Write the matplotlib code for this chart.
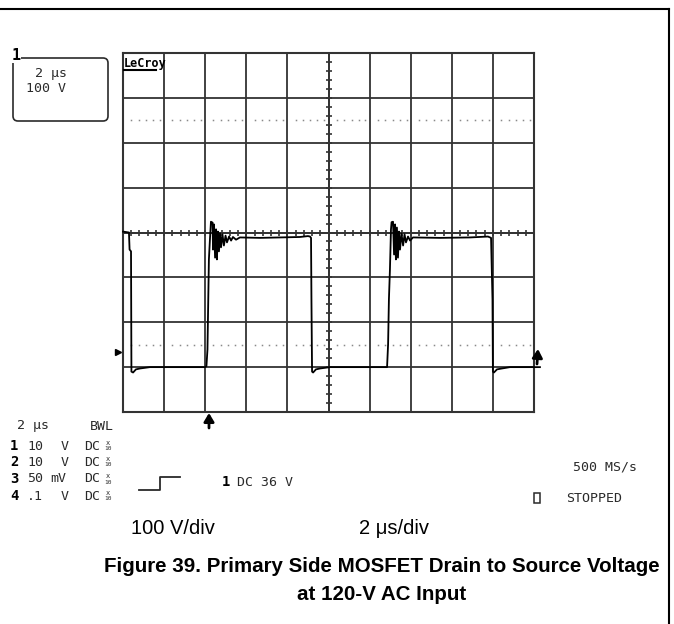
import matplotlib
matplotlib.use("Agg")
import matplotlib.pyplot as plt
from matplotlib.patches import FancyBboxPatch, Rectangle

# screen: 10 div x 2 us, 8 div x 100 V
time_per_div = 2.0
volt_per_div = 100.0

# drain-source trace (us, V on screen scale)
trace_t = [0.0, 0.29, 0.32, 0.39, 0.41, 0.49, 0.63, 0.83, 1.31, 3.99,
           4.06, 4.11, 4.18, 4.23, 4.28, 4.36, 4.38, 4.43, 4.48, 4.53,
           4.57, 4.62, 4.67, 4.72, 4.77, 4.84, 4.91, 4.99, 5.06, 5.16,
           5.26, 5.35, 5.50, 5.69, 6.67, 8.61, 9.00, 9.10, 9.15, 9.17,
           9.20, 9.25, 9.39, 9.59, 10.07, 12.85, 12.90, 12.94, 12.99, 13.04,
           13.07, 13.14, 13.19, 13.24, 13.28, 13.33, 13.38, 13.43, 13.48, 13.55,
           13.63, 13.70, 13.77, 13.87, 13.97, 14.11, 15.43, 16.89, 17.76, 17.91,
           17.98, 18.00, 18.05, 18.20, 18.44, 18.83, 20.29]
trace_v = [2, 0, -38, -42, -310, -312, -305, -303, -300, -300,
           -298, -261, -60, -16, 24, 22, -38, 18, -56, 7,
           -60, 2, -42, -2, -33, -4, -29, -7, -22, -9,
           -18, -10, -16, -11, -12, -10, -8, -9, -12, -149,
           -310, -312, -305, -303, -300, -300, -249, -149, -82, 7,
           23, 24, -49, 18, -60, 11, -56, 2, -38, -2,
           -29, -4, -22, -9, -18, -11, -12, -11, -9, -12,
           -149, -310, -312, -305, -303, -300, -300]

dot_levels = [250, -250]
dot_frac = [0.2, 0.38, 0.56, 0.73, 0.9]

scope_font = "DejaVu Sans Mono"
scope_col = "#2a2a2a"
grid_col = "#333333"

fig = plt.figure(figsize=(6.74, 6.24), dpi=100)

# graticule
ax = fig.add_axes([123 / 674, 1 - 412 / 624, 411 / 674, 359 / 624])
ax.set_xlim(0, 10 * time_per_div)
ax.set_ylim(-4 * volt_per_div, 4 * volt_per_div)
ax.set_xticks([i * time_per_div for i in range(11)])
ax.set_yticks([j * volt_per_div for j in range(-4, 5)])
ax.tick_params(length=0, labelbottom=False, labelleft=False)
ax.grid(True, color=grid_col, lw=1.3)
for s in ax.spines.values():
    s.set_color(grid_col)
    s.set_linewidth(1.5)

# minor ticks on the centre cross
xs = [k * time_per_div / 5 for k in range(51)]
ys = [k * volt_per_div / 5 for k in range(-20, 21)]
ax.plot(xs, [0] * len(xs), ls="", marker="|", ms=4.2, mew=1.2, color=grid_col)
ax.plot([10] * len(ys), ys, ls="", marker="_", ms=5, mew=1.2, color=grid_col)
ax.axvline(10, color=grid_col, lw=1.3)
ax.axhline(0, color=grid_col, lw=1.3)

# dotted 2.5 div markers
for lev in dot_levels:
    dx = [(i + f) * time_per_div for i in range(10) for f in dot_frac]
    ax.plot(dx, [lev] * len(dx), ls="", marker="s", ms=1.1, color="#8a8a8a", mew=0)

ax.plot(trace_t, trace_v, color="black", lw=1.3, clip_on=False, zorder=5)

# overlay in pixel units for the scope annotations
ov = fig.add_axes([0, 0, 1, 1])
ov.set_xlim(0, 674)
ov.set_ylim(624, 0)
ov.axis("off")

# outer frame
ov.plot([0, 669], [9, 9], color="black", lw=1.5)
ov.plot([669, 669], [9, 624], color="black", lw=1.5)

# channel box
ov.add_patch(FancyBboxPatch((13, 58), 95, 63, boxstyle="round,pad=0,rounding_size=5",
                            fill=False, ec=scope_col, lw=1.2))
ov.text(16, 55, "1", family=scope_font, weight="bold", fontsize=11, color="black",
        ha="center", va="center", bbox=dict(fc="white", ec="none", pad=0.5))
ov.text(35, 74, "2 μs", family=scope_font, fontsize=9.5, color=scope_col, va="center")
ov.text(26, 89, "100 V", family=scope_font, fontsize=9.5, color=scope_col, va="center")

ov.text(124, 63, "LeCroy", family=scope_font, weight="bold", fontsize=8.5,
        color="black", va="center")
ov.plot([124, 156], [70, 70], color="black", lw=1.5)

# level / trigger markers
arrow = dict(arrowstyle="-|>,head_length=0.5,head_width=0.3", color="black", lw=2,
             mutation_scale=10, shrinkA=0, shrinkB=0)
ov.plot([118], [352], marker=">", ms=5, color="black", ls="")
ov.annotate("", xy=(538, 349), xytext=(537, 364), arrowprops=arrow)
ov.annotate("", xy=(209, 413), xytext=(209, 428), arrowprops=arrow)

# channel setup text
ov.text(17, 426, "2 μs", family=scope_font, fontsize=9.5, color=scope_col, va="center")
ov.text(90, 426, "BWL", family=scope_font, fontsize=9.5, color=scope_col, va="center")
rows = [("1", "10", "V"), ("2", "10", "V"), ("3", "50", "mV"), ("4", ".1", "V")]
row_y = [446, 462, 479, 496]
for (ch, val, unit), y in zip(rows, row_y):
    ov.text(10, y, ch, family=scope_font, weight="bold", fontsize=10, color="black", va="center")
    ov.text(27, y, val, family=scope_font, fontsize=9.5, color=scope_col, va="center")
    ov.text(61 if unit == "V" else 50, y, unit, family=scope_font, fontsize=9.5,
            color=scope_col, va="center")
    ov.text(84, y, "DC", family=scope_font, fontsize=9.5, color=scope_col, va="center")
    ov.text(108, y - 3, "x", family=scope_font, fontsize=5, color=scope_col,
            ha="center", va="center")
    ov.text(108, y + 3, "10", family=scope_font, fontsize=4.5, color=scope_col,
            ha="center", va="center")

# trigger setup
ov.plot([139, 160, 160, 180], [490, 490, 477, 477], color=scope_col, lw=1.3)
ov.text(222, 482, "1", family=scope_font, weight="bold", fontsize=10, color="black", va="center")
ov.text(237, 482, "DC 36 V", family=scope_font, fontsize=9.5, color=scope_col, va="center")

ov.text(573, 467, "500 MS/s", family=scope_font, fontsize=9.5, color=scope_col, va="center")
ov.add_patch(Rectangle((534, 493), 6, 10, fill=False, ec=scope_col, lw=1.1))
ov.text(566, 498, "STOPPED", family=scope_font, fontsize=9.5, color=scope_col, va="center")

# scale labels and caption
ov.text(131, 528, "100 V/div", family="Liberation Sans", fontsize=14.5, color="black", va="center")
ov.text(359, 528, "2 μs/div", family="Liberation Sans", fontsize=14.5, color="black", va="center")
ov.text(382, 567, "Figure 39. Primary Side MOSFET Drain to Source Voltage",
        family="Liberation Sans", weight="bold", fontsize=14.8, ha="center", va="center")
ov.text(382, 594, "at 120-V AC Input", family="Liberation Sans", weight="bold",
        fontsize=14.8, ha="center", va="center")

fig.savefig("out.png", dpi=100)
